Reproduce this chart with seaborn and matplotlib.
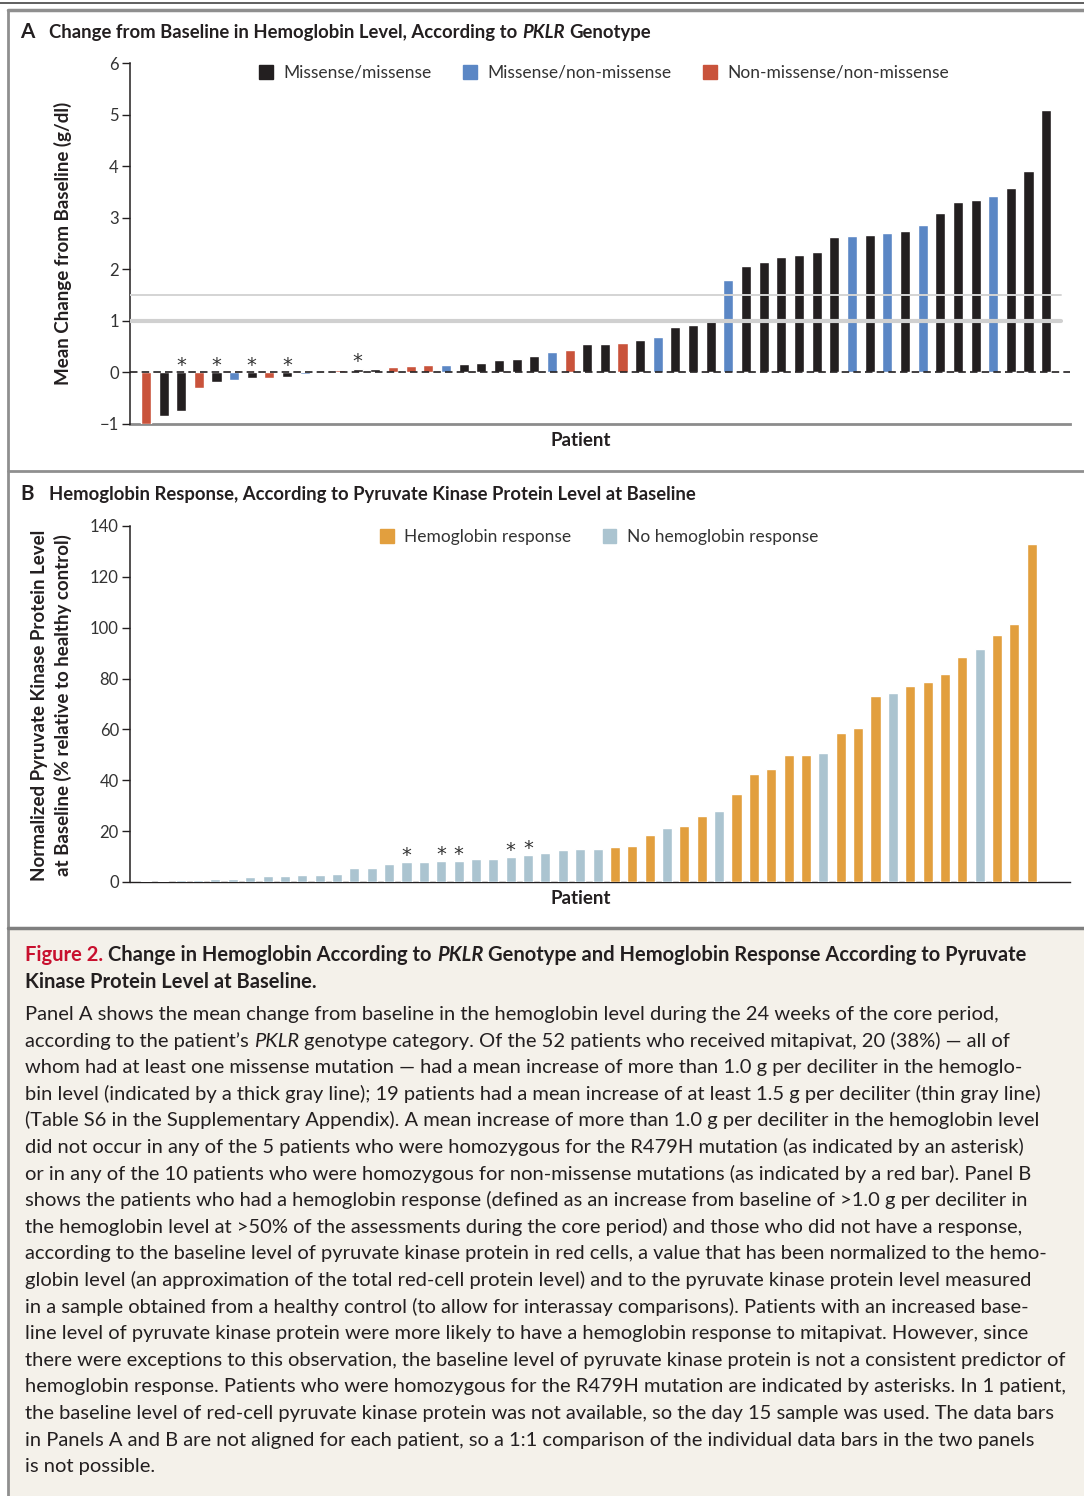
import matplotlib
matplotlib.use('Agg')
import matplotlib.pyplot as plt
import seaborn as sns
import pandas as pd
from matplotlib.patches import Patch, Rectangle
from matplotlib.lines import Line2D

# ---- data, panel A: mean change from baseline in Hb (g/dl) ----
hb_change = [-1.0, -0.85, -0.75, -0.31, -0.19, -0.14, -0.11, -0.11, -0.09, -0.035,
             -0.01, 0.04, 0.07, 0.07, 0.10, 0.12, 0.14, 0.14, 0.16, 0.18,
             0.24, 0.26, 0.32, 0.39, 0.43, 0.55, 0.55, 0.57, 0.63, 0.68,
             0.88, 0.92, 1.04, 1.80, 2.07, 2.15, 2.24, 2.28, 2.34, 2.62,
             2.64, 2.66, 2.70, 2.74, 2.85, 3.10, 3.31, 3.35, 3.43, 3.58,
             3.90, 5.09]
# M = missense/missense, N = missense/non-missense, X = non-missense/non-missense
genotype = list("XMMXMNMXMN" "XXMMXXXNMM" "MMMNXMMXMN" "MMMNMMMMMM" "NMNMNMMMNM" "MM")
geno_names = {'M': 'Missense/missense', 'N': 'Missense/non-missense', 'X': 'Non-missense/non-missense'}
star_a = [2, 4, 6, 8, 12]

# ---- data, panel B: normalized PK protein level at baseline (%) ----
pk_level = [0.5, 0.5, 0.8, 0.8, 1.1, 1.1, 1.8, 2.2, 2.2, 2.6, 2.6, 3.0,
            5.4, 5.4, 6.9, 7.7, 7.7, 8.1, 8.1,
            8.9, 8.9, 9.7, 10.5, 11.3, 12.5, 12.8, 12.8, 13.6, 14.0,
            18.3, 21.1, 21.9, 25.8, 27.8, 34.5,
            42.3, 44.3, 49.8, 49.8, 50.6, 58.5, 60.4, 73.0, 74.2, 76.9,
            78.5, 81.7, 88.3, 91.5, 97.0, 101.3, 132.8]
responders = [28, 29, 30, 32, 33, 35, 36, 37, 38, 39, 41, 42, 43, 45, 46, 47, 48, 50, 51, 52]
star_b = [15, 17, 18, 21, 22]
resp_names = ['Hemoglobin response', 'No hemoglobin response']

# ---- caption text ----
cap_title = [
    [("Figure 2.", 'bold', 'normal', '#c8102e'),
     ("Change in Hemoglobin According to", 'bold', 'normal', '#231f20'),
     ("PKLR", 'bold', 'italic', '#231f20'),
     ("Genotype and Hemoglobin Response According to Pyruvate", 'bold', 'normal', '#231f20')],
    [("Kinase Protein Level at Baseline.", 'bold', 'normal', '#231f20')],
]
cap_body = [
    "Panel A shows the mean change from baseline in the hemoglobin level during the 24 weeks of the core period,",
    None,
    "whom had at least one missense mutation \u2014 had a mean increase of more than 1.0 g per deciliter in the hemoglo-",
    "bin level (indicated by a thick gray line); 19 patients had a mean increase of at least 1.5 g per deciliter (thin gray line)",
    "(Table S6 in the Supplementary Appendix). A mean increase of more than 1.0 g per deciliter in the hemoglobin level",
    "did not occur in any of the 5 patients who were homozygous for the R479H mutation (as indicated by an asterisk)",
    "or in any of the 10 patients who were homozygous for non-missense mutations (as indicated by a red bar). Panel B",
    "shows the patients who had a hemoglobin response (defined as an increase from baseline of >1.0 g per deciliter in",
    "the hemoglobin level at >50% of the assessments during the core period) and those who did not have a response,",
    "according to the baseline level of pyruvate kinase protein in red cells, a value that has been normalized to the hemo-",
    "globin level (an approximation of the total red-cell protein level) and to the pyruvate kinase protein level measured",
    "in a sample obtained from a healthy control (to allow for interassay comparisons). Patients with an increased base-",
    "line level of pyruvate kinase protein were more likely to have a hemoglobin response to mitapivat. However, since",
    "there were exceptions to this observation, the baseline level of pyruvate kinase protein is not a consistent predictor of",
    "hemoglobin response. Patients who were homozygous for the R479H mutation are indicated by asterisks. In 1 patient,",
    "the baseline level of red-cell pyruvate kinase protein was not available, so the day 15 sample was used. The data bars",
    "in Panels A and B are not aligned for each patient, so a 1:1 comparison of the individual data bars in the two panels",
    "is not possible.",
]
cap_line2 = [("according to the patient\u2019s", 'normal', 'normal', '#231f20'),
             ("PKLR", 'normal', 'italic', '#231f20'),
             ("genotype category. Of the 52 patients who received mitapivat, 20 (38%) \u2014 all of", 'normal', 'normal', '#231f20')]

C_BLACK, C_BLUE, C_RED = '#231f20', '#5b87c5', '#c9533b'
C_ORANGE, C_GREY = '#e29f3e', '#abc4d0'
BODY = ['Lato', 'DejaVu Sans']
HEAD = ['Lato', 'DejaVu Sans']

sns.set_style('ticks')
plt.rcParams['font.family'] = BODY

W, H = 1084, 1496
fig = plt.figure(figsize=(W / 100, H / 100), dpi=100)
renderer = fig.canvas.get_renderer()


def fx(px):
    return px / W


def fy(py):
    return 1 - py / H


def text_w(s, **kw):
    t = fig.text(0, 0, s, **kw)
    w = t.get_window_extent(renderer).width
    t.remove()
    return w


def runs_width(runs, size, family):
    sp = text_w('a a', size=size, family=family) - text_w('aa', size=size, family=family)
    tot = sum(text_w(s, size=size, family=family, weight=wt, style=st) for s, wt, st, c in runs)
    return tot + sp * (len(runs) - 1)


def draw_runs(x, y, runs, size, family):
    sp = text_w('a a', size=size, family=family) - text_w('aa', size=size, family=family)
    for s, wt, st, c in runs:
        t = fig.text(fx(x), fy(y), s, size=size, family=family, weight=wt, style=st,
                     color=c, ha='left', va='baseline')
        x += t.get_window_extent(renderer).width + sp


# ---- frame ----
fig.add_artist(Rectangle((fx(9), 0), 1 - fx(9), fy(929), color='#f4f1ea', zorder=0))
for (x0, y0, x1, y1, lw, c) in [(0, 3, W, 3, 1.2, '#444444'), (8, 10, W, 10, 2.5, '#8f8f8f'),
                                (8, 10, 8, H, 2, '#8f8f8f'), (8, 471, W, 471, 2, '#8f8f8f'),
                                (8, 928, W, 928, 2.5, '#7f7f7f')]:
    fig.add_artist(Line2D([fx(x0), fx(x1)], [fy(y0), fy(y1)], lw=lw, color=c, zorder=5))

# ---- panel A ----
dfA = pd.DataFrame({'patient': range(len(hb_change)), 'change': hb_change,
                    'genotype': [geno_names[g] for g in genotype]})
palA = {geno_names['M']: C_BLACK, geno_names['N']: C_BLUE, geno_names['X']: C_RED}
axA = fig.add_axes([fx(130), fy(424), 940 / W, 361 / H])
sns.barplot(data=dfA, x='patient', y='change', hue='genotype', hue_order=list(palA),
            palette=palA, dodge=False, width=0.57, saturation=1, legend=False, ax=axA)
axA.set_xlim(-0.9, 52.35)
axA.set_ylim(-1, 6)
axA.axhline(1.0, xmax=0.99, color='#d0d0d0', lw=3, zorder=5)
axA.axhline(1.5, xmax=0.99, color='#d4d4d4', lw=1.4, zorder=5)
axA.axhline(0, color=C_BLACK, lw=1.2, ls=(0, (4.5, 2.5)), zorder=6)
for i in star_a:
    axA.annotate('*', xy=(i, max(hb_change[i], 0)), xytext=(0, 5), textcoords='offset points',
                 ha='center', va='center', fontsize=14, family='DejaVu Sans', color='#333333')
axA.legend(handles=[Patch(color=c, label=k) for k, c in palA.items()], loc='center',
           bbox_to_anchor=(fx(604), fy(73)), bbox_transform=fig.transFigure, ncol=3,
           frameon=False, fontsize=12.5, handlelength=0.8, handleheight=0.8,
           handletextpad=0.6, columnspacing=1.8, labelcolor='#333333')

# ---- panel B ----
dfB = pd.DataFrame({'patient': range(len(pk_level)), 'level': pk_level,
                    'response': [resp_names[0] if i + 1 in responders else resp_names[1]
                                 for i in range(len(pk_level))]})
palB = {resp_names[0]: C_ORANGE, resp_names[1]: C_GREY}
axB = fig.add_axes([fx(130), fy(882), 940 / W, 356 / H])
sns.barplot(data=dfB, x='patient', y='level', hue='response', hue_order=resp_names,
            palette=palB, dodge=False, width=0.58, saturation=1, legend=False, ax=axB)
axB.set_xlim(-0.92, 53.2)
axB.set_ylim(0, 140)
axB.set_yticks(range(0, 141, 20))
for i in star_b:
    axB.annotate('*', xy=(i, pk_level[i]), xytext=(0, 5), textcoords='offset points',
                 ha='center', va='center', fontsize=14, family='DejaVu Sans', color='#333333')
axB.legend(handles=[Patch(color=c, label=k) for k, c in palB.items()], loc='center',
           bbox_to_anchor=(fx(599), fy(537)), bbox_transform=fig.transFigure, ncol=2,
           frameon=False, fontsize=12.5, handlelength=0.8, handleheight=0.8,
           handletextpad=0.6, columnspacing=1.8, labelcolor='#333333')

for ax, bc, blw in [(axA, '#8c8c8c', 2), (axB, C_BLACK, 1.0)]:
    sns.despine(ax=ax)
    ax.spines['left'].set_color(C_BLACK)
    ax.spines['left'].set_linewidth(1.1)
    ax.spines['bottom'].set_color(bc)
    ax.spines['bottom'].set_linewidth(blw)
    ax.spines['bottom'].set_zorder(0.5)
    ax.set_xticks([])
    ax.set_xlabel('')
    ax.set_ylabel('')
    ax.tick_params(axis='y', direction='out', length=6, width=1, color=C_BLACK,
                   labelsize=12, labelcolor='#333333', pad=2)
    ax.set_facecolor('none')

# ---- axis titles ----
fig.text(fx(63), fy(243), 'Mean Change from Baseline (g/dl)', rotation=90, ha='center',
         va='center', size=13.5, weight='bold', family=HEAD, color=C_BLACK)
fig.text(fx(40), fy(705), 'Normalized Pyruvate Kinase Protein Level', rotation=90,
         ha='center', va='center', size=13.5, weight='bold', family=HEAD, color=C_BLACK)
fig.text(fx(63), fy(705), 'at Baseline (% relative to healthy control)', rotation=90,
         ha='center', va='center', size=13.5, weight='bold', family=HEAD, color=C_BLACK)
for y in (441, 899):
    fig.text(fx(581), fy(y), 'Patient', ha='center', va='center', size=13.5,
             weight='bold', family=HEAD, color=C_BLACK)

# ---- panel headers ----
hdrA = [("Change from Baseline in Hemoglobin Level, According to", 'bold', 'normal', C_BLACK),
        ("PKLR", 'bold', 'italic', C_BLACK),
        ("Genotype", 'bold', 'normal', C_BLACK)]
hdr = 14 * 607 / runs_width(hdrA, 14, HEAD)
fig.text(fx(20), fy(38), 'A', size=hdr + 1.5, weight='bold', family=HEAD, color=C_BLACK, va='baseline')
draw_runs(49, 38, hdrA, hdr, HEAD)
fig.text(fx(20), fy(500), 'B', size=hdr + 1.5, weight='bold', family=HEAD, color=C_BLACK, va='baseline')
draw_runs(49, 500, [("Hemoglobin Response, According to Pyruvate Kinase Protein Level at Baseline",
                     'bold', 'normal', C_BLACK)], hdr, HEAD)

# ---- caption ----
tsize = 14 * 1008 / runs_width(cap_title[0], 14, HEAD)
for k, runs in enumerate(cap_title):
    draw_runs(25, 961 + 27 * k, runs, tsize, HEAD)

widest = max(runs_width([(s, 'normal', 'normal', C_BLACK)], 13, BODY) for s in cap_body if s)
bsize = 13 * 1043 / widest
for k, line in enumerate(cap_body):
    runs = cap_line2 if line is None else [(line, 'normal', 'normal', C_BLACK)]
    draw_runs(25, 1020 + 26.6 * k, runs, bsize, BODY)

fig.savefig('out.png', dpi=100)
